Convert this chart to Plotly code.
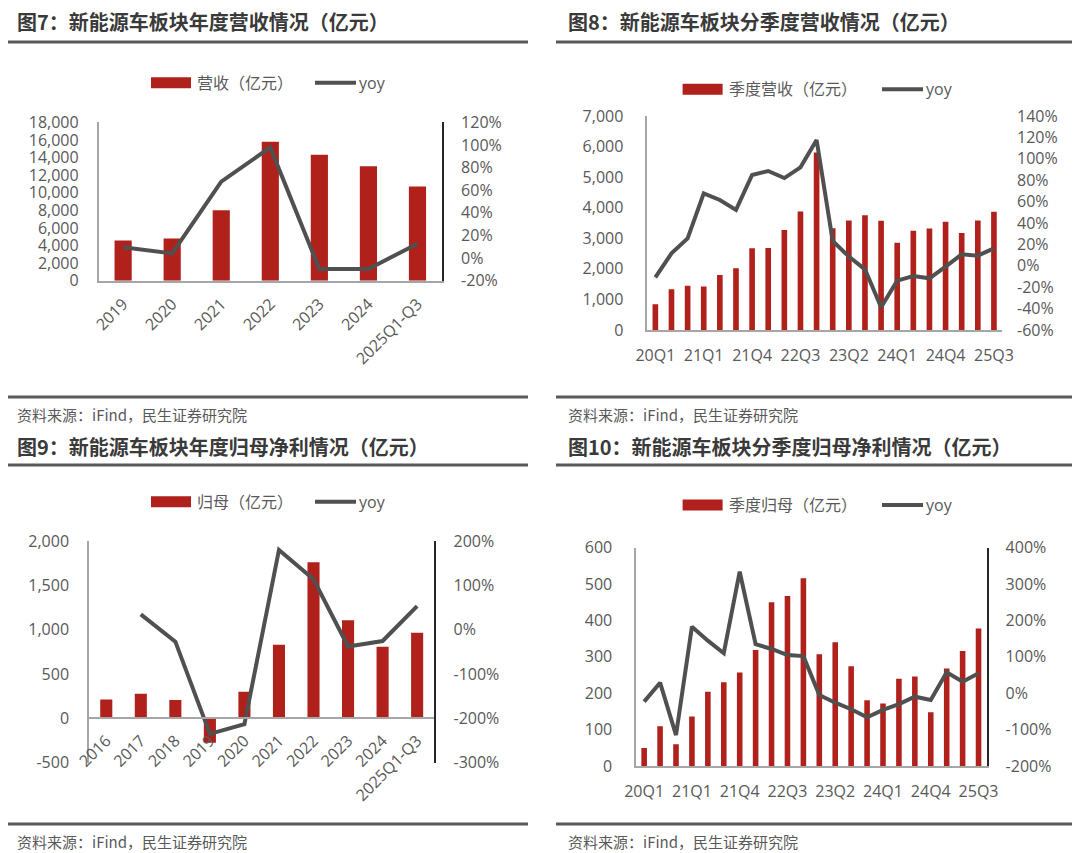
import plotly.graph_objects as go

# page body keeps an 8px margin, so shift everything by it
OFF = 8
W, H = 1072, 845

# ---- data ----
# 图7 年度营收
years_rev = ["2019", "2020", "2021", "2022", "2023", "2024", "2025Q1-Q3"]
rev = [4580, 4800, 8000, 15800, 14300, 13000, 10700]
rev_yoy = [9.5, 4.1, 67.5, 97.8, -9.7, -9.6, 12.7]

# 图8 季度营收
quarters = ["20Q1", "20Q3", "20Q4", "21Q1", "21Q2", "21Q3", "21Q4", "22Q1", "22Q2", "22Q3", "22Q4",
            "23Q1", "23Q2", "23Q3", "23Q4", "24Q1", "24Q2", "24Q3", "24Q4", "25Q1", "25Q2", "25Q3"]
q_ticks = ["20Q1", "21Q1", "21Q4", "22Q3", "23Q2", "24Q1", "24Q4", "25Q3"]
q_rev = [840, 1330, 1450, 1420, 1800, 2020, 2670, 2680, 3270, 3880, 5810,
         3330, 3580, 3750, 3570, 2850, 3250, 3320, 3540, 3170, 3580, 3870]
q_rev_yoy = [-10.8, 11.6, 25.6, 67.7, 61.5, 52.2, 84.9, 88.6, 82.0, 92.0, 117.6,
             23.2, 8.6, -3.3, -38.8, -13.9, -9.5, -11.7, -0.8, 10.7, 9.5, 16.3]

# 图9 年度归母
years_np = ["2016", "2017", "2018", "2019", "2020", "2021", "2022", "2023", "2024", "2025Q1-Q3"]
np_profit = [214, 278, 207, -274, 301, 831, 1759, 1105, 808, 966]
np_yoy = [None, 34.6, -27, -235, -213, 180, 113.5, -38, -25.6, 53]

# 图10 季度归母
q_np = [49.5, 109, 59.5, 136, 204, 230, 257, 319, 450, 467, 516,
        307, 340, 274, 181, 172, 240, 246, 148, 268, 316, 378]
q_np_yoy = [-23, 29, -115, 183, 144.5, 110, 334, 135, 121.6, 105, 102,
            -5, -26, -44, -66, -46, -30, -9.5, -18.6, 57.4, 31.8, 54.7]

# ---- style ----
RED = "#AF211A"
LINE = "#505050"
TXT = "#595959"
FONT = "Open Sans, Noto Sans CJK SC, sans-serif"
CJK = "Noto Sans CJK SC, sans-serif"


def px_x(x):
    return (x - OFF) / W


def px_y(y):
    return 1 - (y - OFF) / H


def tick_list(lo, hi, step, pct=False):
    vals = list(range(lo, hi + 1, step))
    if pct:
        return vals, [f"{v}%" for v in vals]
    return vals, [f"{v:,}" for v in vals]


fig = go.Figure()

panels = [
    dict(cats=years_rev, bars=rev, yoy=rev_yoy, name="营收（亿元）",
         xdom=(98.6, 442), ydom=(280.7, 122.3), left=(0, 18000, 2000), right=(-20, 120, 20),
         angle=-45, ticks=None, right_line=True, lstand=15, rstand=14,
         leg_y=82.7, leg_x=151, line_x=315),
    dict(cats=quarters, bars=q_rev, yoy=q_rev_yoy, name="季度营收（亿元）",
         xdom=(647.3, 1002), ydom=(330, 116), left=(0, 7000, 1000), right=(-60, 140, 20),
         angle=0, ticks=q_ticks, right_line=False, lstand=19, rstand=14,
         leg_y=89.3, leg_x=682.6, line_x=882),
    dict(cats=years_np, bars=np_profit, yoy=np_yoy, name="归母（亿元）",
         xdom=(89, 434.4), ydom=(762.7, 541), left=(-500, 2000, 500), right=(-300, 200, 100),
         angle=-45, ticks=None, right_line=True, lstand=15, rstand=14,
         leg_y=501.7, leg_x=151, line_x=315),
    dict(cats=quarters, bars=q_np, yoy=q_np_yoy, name="季度归母（亿元）",
         xdom=(636.2, 986.5), ydom=(766, 547.7), left=(0, 600, 100), right=(-200, 400, 100),
         angle=0, ticks=q_ticks, right_line=True, lstand=19, rstand=14,
         leg_y=505, leg_x=682.6, line_x=882),
]

shapes = []
annotations = []

for i, p in enumerate(panels):
    xa = "x" if i == 0 else f"x{i + 1}"
    yl = f"y{2 * i + 1}" if i > 0 else "y"
    yr = f"y{2 * i + 2}"
    xkey = "xaxis" if i == 0 else f"xaxis{i + 1}"
    ylkey = "yaxis" if i == 0 else f"yaxis{2 * i + 1}"
    yrkey = f"yaxis{2 * i + 2}"

    fig.add_trace(go.Bar(x=p["cats"], y=p["bars"], marker_color=RED, xaxis=xa, yaxis=yl,
                         showlegend=False))
    fig.add_trace(go.Scatter(x=p["cats"], y=p["yoy"], mode="lines", xaxis=xa, yaxis=yr,
                             line=dict(color=LINE, width=4), showlegend=False))

    x0, x1 = px_x(p["xdom"][0]), px_x(p["xdom"][1])
    y0, y1 = px_y(p["ydom"][0]), px_y(p["ydom"][1])
    lo, hi, st = p["left"]
    rlo, rhi, rst = p["right"]
    lv, lt = tick_list(lo, hi, st)
    rv, rt = tick_list(rlo, rhi, rst, pct=True)

    xaxis = dict(domain=[x0, x1], anchor=yl, type="category", showgrid=False, ticks="",
                 showline=True, linecolor="#A6A6A6", linewidth=1.5, automargin=False,
                 tickangle=p["angle"], tickfont=dict(family=FONT, size=16, color=TXT),
                 ticklabelstandoff=6)
    if p["ticks"] is not None:
        xaxis.update(tickmode="array", tickvals=p["ticks"], ticktext=p["ticks"],
                     ticklabelstandoff=10)
    if lo < 0:
        # category labels sit on the zero line
        zpos = y0 + (0 - lo) / (hi - lo) * (y1 - y0)
        xaxis.update(anchor="free", position=zpos)
    fig.layout[xkey] = xaxis

    fig.layout[ylkey] = dict(domain=[y0, y1], anchor=xa, range=[lo, hi], showgrid=False,
                             zeroline=False, tickmode="array", tickvals=lv, ticktext=lt,
                             ticks="", showline=True, linecolor="#A6A6A6", linewidth=1.5,
                             automargin=False, tickfont=dict(family=FONT, size=16, color=TXT),
                             ticklabelstandoff=p["lstand"])
    fig.layout[yrkey] = dict(overlaying=yl, side="right", anchor=xa, range=[rlo, rhi],
                             showgrid=False, zeroline=False, tickmode="array", tickvals=rv,
                             ticktext=rt, ticks="", showline=p["right_line"],
                             linecolor="#262626", linewidth=1.8, automargin=False,
                             tickfont=dict(family=FONT, size=16, color=TXT),
                             ticklabelstandoff=p["rstand"])

    # legend drawn by hand (wide swatches like the source)
    ly = p["leg_y"]
    shapes.append(dict(type="rect", xref="paper", yref="paper",
                       x0=px_x(p["leg_x"]), x1=px_x(p["leg_x"] + 40),
                       y0=px_y(ly + 5.5), y1=px_y(ly - 5.5),
                       fillcolor=RED, line=dict(width=0)))
    annotations.append(dict(xref="paper", yref="paper", x=px_x(p["leg_x"] + 44), y=px_y(ly),
                            text=p["name"], showarrow=False, xanchor="left", yanchor="middle",
                            font=dict(family=FONT, size=16, color=TXT)))
    shapes.append(dict(type="line", xref="paper", yref="paper",
                       x0=px_x(p["line_x"]), x1=px_x(p["line_x"] + 41),
                       y0=px_y(ly), y1=px_y(ly), line=dict(color=LINE, width=4)))
    annotations.append(dict(xref="paper", yref="paper", x=px_x(p["line_x"] + 42), y=px_y(ly),
                            text="yoy", showarrow=False, xanchor="left", yanchor="middle",
                            font=dict(family=FONT, size=16, color=TXT)))

# titles, rules and source notes
titles = [("图7：新能源车板块年度营收情况（亿元）", 15, 21.7),
          ("图8：新能源车板块分季度营收情况（亿元）", 566, 21.7),
          ("图9：新能源车板块年度归母净利情况（亿元）", 15, 446.7),
          ("图10：新能源车板块分季度归母净利情况（亿元）", 566, 446.7)]
for text, x, y in titles:
    annotations.append(dict(xref="paper", yref="paper", x=px_x(x), y=px_y(y), text=f"<b>{text}</b>",
                            showarrow=False, xanchor="left", yanchor="middle",
                            font=dict(family=CJK, size=20, color="#3A3A3A")))

for y in [42, 397, 465, 824]:
    for a, b in [(8, 528), (556, 1078)]:
        shapes.append(dict(type="line", xref="paper", yref="paper", x0=px_x(a), x1=px_x(b),
                           y0=px_y(y), y1=px_y(y), line=dict(color="#595959", width=3)))

for x, y in [(15, 414), (566, 414), (15, 841), (566, 841)]:
    annotations.append(dict(xref="paper", yref="paper", x=px_x(x), y=px_y(y),
                            text="资料来源：iFind，民生证券研究院", showarrow=False,
                            xanchor="left", yanchor="middle",
                            font=dict(family=CJK, size=15, color="#595959")))

fig.update_layout(template="none", width=W, height=H, margin=dict(l=0, r=0, t=0, b=0, pad=0),
                  paper_bgcolor="white", plot_bgcolor="white", bargap=0.65,
                  showlegend=False, shapes=shapes, annotations=annotations)

fig.write_html("out.html")
